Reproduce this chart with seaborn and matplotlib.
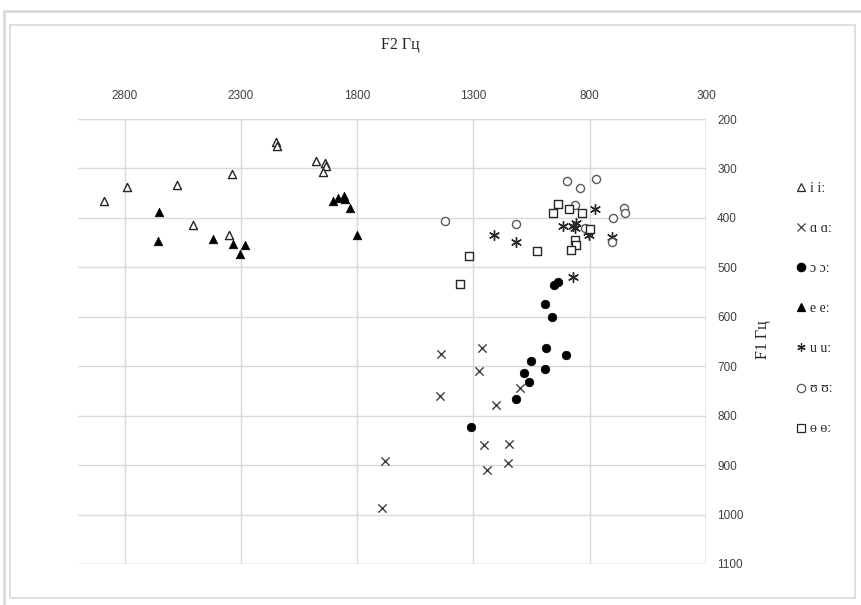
import matplotlib
matplotlib.use("Agg")
import matplotlib.pyplot as plt
import seaborn as sns
from matplotlib.patches import Rectangle
from matplotlib.lines import Line2D

# ---- data (F2, F1 in Hz) ----
labels = ["i iː", "ɑ ɑː", "ɔ ɔː", "e eː", "u uː", "ʊ ʊː", "ɵ ɵː"]

i_f2 = [2887, 2789, 2575, 2340, 2504, 2350, 2150, 2145, 1976, 1937, 1935, 1948]
i_f1 = [365, 337, 334, 311, 415, 435, 246, 254, 284, 290, 296, 308]

a_f2 = [1438, 1264, 1274, 1442, 1205, 1100, 1254, 1147, 1240, 1153, 1680, 1692]
a_f1 = [676, 664, 709, 761, 779, 745, 860, 858, 909, 896, 892, 986]

o_f2 = [954, 937, 993, 961, 990, 904, 1054, 1082, 993, 1062, 1115, 1311]
o_f1 = [536, 530, 574, 601, 664, 678, 690, 713, 705, 732, 767, 823]

e_f2 = [2650, 2655, 2421, 2335, 2280, 2303, 1905, 1881, 1858, 1851, 1831, 1799]
e_f1 = [389, 446, 443, 453, 455, 474, 365, 360, 356, 362, 381, 435]

u_f2 = [1211, 1117, 915, 873, 865, 858, 808, 801, 778, 702, 873]
u_f1 = [435, 448, 416, 416, 421, 411, 428, 435, 383, 439, 519]

uh_f2 = [1424, 1117, 898, 840, 773, 652, 650, 699, 702, 865, 820]
uh_f1 = [406, 413, 325, 340, 322, 380, 391, 400, 448, 373, 421]

oe_f2 = [1321, 1357, 1025, 958, 937, 891, 834, 797, 863, 857, 880]
oe_f1 = [477, 533, 467, 391, 372, 383, 390, 423, 445, 455, 465]

x_ticks = [2800, 2300, 1800, 1300, 800, 300]
y_ticks = [200, 300, 400, 500, 600, 700, 800, 900, 1000, 1100]

# ---- style ----
sns.set_theme(style="white")
plt.rcParams["font.family"] = ["Liberation Serif", "DejaVu Serif"]

fig = plt.figure(figsize=(8.61, 6.05), dpi=100)
W, H = 861, 605
ax = fig.add_axes([78 / W, 1 - 564 / H, (706 - 78) / W, (564 - 119) / H])

series = [
    (i_f2, i_f1, dict(marker="^", s=34, facecolor="white", edgecolor="#262626", linewidth=1.0)),
    (a_f2, a_f1, dict(marker="x", s=36, color="#404040", linewidth=1.0)),
    (o_f2, o_f1, dict(marker="o", s=38, facecolor="black", edgecolor="black", linewidth=0.5)),
    (e_f2, e_f1, dict(marker="^", s=38, facecolor="black", edgecolor="black", linewidth=0.5)),
    (u_f2, u_f1, dict(marker=(6, 2, 0), s=50, color="#262626", linewidth=1.0)),
    (uh_f2, uh_f1, dict(marker="o", s=34, facecolor="white", edgecolor="#595959", linewidth=1.0)),
    (oe_f2, oe_f1, dict(marker="s", s=34, facecolor="white", edgecolor="#262626", linewidth=1.0)),
]

handles = []
for (xs, ys, kw), lab in zip(series, labels):
    sns.scatterplot(x=xs, y=ys, ax=ax, legend=False, zorder=3, **kw)
    mk = kw["marker"]
    fc = kw.get("facecolor", kw.get("color"))
    ec = kw.get("edgecolor", kw.get("color"))
    handles.append(Line2D([], [], linestyle="none", marker=mk, markersize=6,
                          markerfacecolor=fc, markeredgecolor=ec,
                          markeredgewidth=0.9, label=lab))

ax.set_xlim(3000, 300)
ax.set_ylim(1100, 200)
ax.set_xticks(x_ticks)
ax.set_yticks(y_ticks)
ax.xaxis.tick_top()
ax.yaxis.tick_right()
ax.tick_params(axis="both", length=0, labelsize=8.5, colors="#404040")
ax.tick_params(axis="x", pad=12)
ax.tick_params(axis="y", pad=8)
for t in ax.get_xticklabels() + ax.get_yticklabels():
    t.set_fontfamily(["Liberation Sans Narrow", "Liberation Sans", "DejaVu Sans"])
ax.grid(True, color="#d9d9d9", linewidth=1.0)
for sp in ax.spines.values():
    sp.set_visible(False)
ax.axhline(200, color="#d9d9d9", linewidth=1.0, zorder=1)
ax.axhline(1100, color="#d9d9d9", linewidth=1.0, zorder=1)
ax.axvline(300, color="#bfbfbf", linewidth=1.0, zorder=1)

fig.text(400 / W, 1 - 45 / H, "F2 Гц", ha="center", va="center", fontsize=11.5, color="#262626")
fig.text(763 / W, 1 - 340 / H, "F1 Гц", ha="center", va="center", fontsize=11.5,
         rotation=90, color="#262626")

leg = fig.legend(handles=handles, loc="upper left", bbox_to_anchor=(797 / W, 1 - 182 / H),
                 frameon=False, fontsize=10, handlelength=0.6, handletextpad=0.35,
                 labelspacing=1.95, borderpad=0, borderaxespad=0)

# chart frame
fig.patches.append(Rectangle((10 / W, 1 - 598 / H), 845 / W, (598 - 25) / H,
                             transform=fig.transFigure, fill=False,
                             edgecolor="#d9d9d9", linewidth=1.2))
fig.lines.append(Line2D([4 / W, 4 / W], [0, 1 - 11 / H], transform=fig.transFigure,
                        color="#d9d9d9", linewidth=2))
fig.lines.append(Line2D([4 / W, 1], [1 - 11 / H, 1 - 11 / H], transform=fig.transFigure,
                        color="#d9d9d9", linewidth=2))

fig.savefig("out.png", dpi=100)
